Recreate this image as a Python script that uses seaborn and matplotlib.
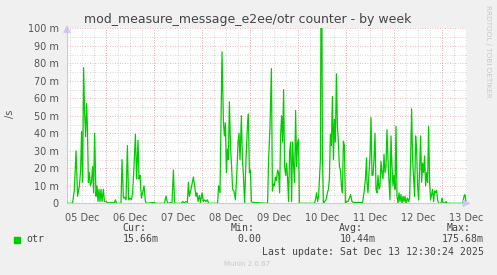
import matplotlib
matplotlib.use("Agg")
import numpy as np
import pandas as pd
import matplotlib.pyplot as plt
import seaborn as sns

# ---------------- data ----------------
START = "2025-12-05 04:30"
END = "2025-12-13 12:30"

hours = [0, 2.8, 3.7, 4.5, 5.3, 6.2, 6.8, 7.3, 7.8, 8.3, 8.8, 9.3, 9.8, 10.2, 10.7, 11.2, 11.7,
         12.2, 12.8, 13.3, 13.8, 14.5, 15, 15.5, 16, 16.5, 17, 17.5, 18.2, 18.7, 19.5, 20.3,
         23.7, 24.2, 24.8, 27, 27.5, 28.2, 28.8, 29.5, 30.2, 30.8, 31.5, 32.2, 32.8, 33.5,
         34.2, 34.8, 35.5, 36, 36.5, 37.2, 37.8, 38.5, 39.2, 39.8, 43.7, 44.5, 48.7,
         49.5, 50.3, 52.5, 53.2, 53.8, 57, 57.8, 58.7, 59.5, 60.2, 60.7, 61.2, 62, 63.2,
         63.8, 64.5, 65, 65.5, 66.2, 66.8, 67.5, 68.2, 68.8, 69.5, 70.2, 70.8, 75.3, 75.8,
         76.5, 77.5, 78.2, 78.7, 79.2, 79.7, 80.2, 80.7, 81.2, 81.8, 82.3, 82.8, 83.5, 84.2,
         84.8, 85.5, 86, 86.5, 87.2, 87.7, 88.2, 88.8, 89.5, 90.2, 90.7, 91.2, 91.7, 92.2,
         92.8, 99.5,
         100.3, 100.8, 101.5, 102.2, 102.7, 103.2, 103.7, 104.2, 104.7, 105.3, 105.8, 106.3,
         106.8, 107.3, 107.8, 108.3, 108.8, 109.3, 109.8, 110.3, 110.8, 111.3, 111.8, 112.3,
         112.8, 113.3, 113.8, 114.3, 114.8, 115.3, 115.8, 116.2, 123.7, 124.2, 124.8, 125.3,
         125.8, 126.7, 127.2, 127.7, 128.2, 128.8, 129.5, 130.2, 130.7, 131.2, 131.7, 132.2,
         132.7, 133.2, 133.7, 134.2, 134.7, 135.2, 135.7, 136.2, 136.7, 137.2, 137.7, 138.2,
         138.7, 139.2, 139.8, 140.5, 141.2, 141.8, 142.5, 143.2, 147.8, 148.7, 149.2, 149.8,
         150, 150.5, 151, 151.5, 152, 152.5, 153, 153.5, 154, 154.5, 155, 155.5, 156, 156.5,
         157, 157.5, 158, 158.5, 159, 159.5, 160, 160.5, 161, 161.5, 162, 162.5, 163, 163.5,
         164, 164.5, 165, 165.5, 166, 166.5, 167, 167.5, 168, 168.5, 169, 169.5, 170.2, 170.8,
         171.3, 171.8, 172.3, 172.8, 173.3, 173.8, 174.3, 174.8, 175.3, 175.8, 176.3, 176.8,
         177.3, 177.8, 178.3, 178.8, 179.3, 179.8, 180.3, 180.8, 181.3, 181.8, 182.3, 182.8,
         183.3, 183.8, 184.3, 184.8, 185.3, 185.8, 187, 187.5, 188, 188.8, 189.5, 190, 197.8,
         198.5, 199, 199.5]

otr_m = [0, 0, 8, 30, 4, 10, 19, 41, 12, 77.5, 52, 38, 57, 44, 12, 17.5, 10,
         12, 21, 6, 40, 4, 10, 1, 8, 1, 8, 1, 8, 1, 1, 0.3,
         0.3, 2, 0, 0, 25, 3, 3.5, 2, 33, 2, 3, 2, 6, 21,
         39.5, 14, 36, 14, 16, 3, 6, 10, 1, 0, 0.5, 0, 0,
         4, 0, 0.5, 19, 0, 0, 1, 0.3, 1, 0.5, 12, 4, 8, 15,
         10, 4, 6, 1, 4.5, 0.5, 6, 1, 2, 1, 2, 0, 0, 10,
         6, 86.5, 47, 38.5, 46, 17.5, 31, 25, 58, 31, 21, 8, 7, 2,
         14, 35, 40, 25, 50, 25, 16.5, 0, 25, 44, 51, 17.5, 19, 1,
         0.5, 0,
         0, 25, 44, 77, 7, 11, 10, 15, 13, 19, 17.5, 6,
         38.5, 50, 35, 65, 21, 16, 23, 14, 1, 29, 35, 1,
         35, 21, 12, 53, 21, 35, 36.5, 0, 0, 2, 6, 1,
         4, 25, 175.68, 29, 0, 1, 2, 6, 8, 14, 39.5, 33,
         61, 25, 48, 35, 74, 44, 35, 21, 19, 10, 6, 35.5,
         33, 0, 1, 1, 3, 5, 1, 0.5, 0.5, 8, 14, 26,
         12, 6, 17.5, 27, 49, 16, 16, 25, 40, 8, 6, 16, 8, 10,
         24, 17.5, 14, 28, 17.5, 21, 42, 25, 12, 2, 38.5, 21, 10, 16,
         8, 44, 4, 0, 6, 1, 5, 0, 4, 1, 4, 0, 3, 1,
         3, 25, 54, 25, 14, 4, 38.5, 31, 10, 2, 19, 38.5,
         12, 23, 17.5, 27, 10, 17.5, 12, 44, 12, 2, 5, 8,
         1, 7, 6, 7.5, 2, 0, 0, 3, 0.5, 0, 1, 0, 0,
         4, 5, 0]

y_ticks = [0, 10, 20, 30, 40, 50, 60, 70, 80, 90, 100]
y_tick_labels = ["0"] + [f"{v} m" for v in y_ticks[1:]]
legend_name = "otr"
stat_names = ["Cur:", "Min:", "Avg:", "Max:"]
stat_values = ["15.66m", "0.00", "10.44m", "175.68m"]
last_update = "Last update: Sat Dec 13 12:30:24 2025"
title = "mod_measure_message_e2ee/otr counter - by week"

# ---------------- derived time grid ----------------
start = pd.Timestamp(START)
end = pd.Timestamp(END)
span_h = (end - start) / pd.Timedelta(hours=1)
midnights = pd.date_range("2025-12-06", "2025-12-13", freq="D")
midnight_h = [(d - start) / pd.Timedelta(hours=1) for d in midnights]
six_h = [(d - start) / pd.Timedelta(hours=1)
         for d in pd.date_range("2025-12-05 06:00", "2025-12-13 12:00", freq="6h")]
noons = pd.date_range("2025-12-05 12:00", "2025-12-13 12:00", freq="D")
noon_h = [(d - start) / pd.Timedelta(hours=1) for d in noons]
noon_labels = [d.strftime("%d %b") for d in noons]

df = pd.DataFrame({"hours": hours, "value": otr_m})

# ---------------- figure ----------------
W, H = 497, 275
sns.set_style("white")
plt.rcParams["font.family"] = ["DejaVu Sans"]
fig = plt.figure(figsize=(W / 100, H / 100), dpi=100, facecolor="#F0F0F0")

L, R, T, B = 67, 467, 28.3, 203.3
ax = fig.add_axes([L / W, 1 - B / H, (R - L) / W, (B - T) / H])
ax.set_facecolor("white")

# grid
for h in six_h:
    ax.axvline(h, color="#C8C8C8", lw=0.6, ls=(0, (1, 2)), zorder=1)
for h in midnight_h:
    ax.axvline(h, color="#E8A0A0", lw=0.6, ls=(0, (1, 2)), zorder=1.1)
for v in np.arange(5, 100, 10):
    ax.axhline(v, color="#C8C8C8", lw=0.6, ls=(0, (1, 2)), zorder=1)
for v in y_ticks[1:]:
    ax.axhline(v, color="#E8A0A0", lw=0.6, ls=(0, (1, 2)), zorder=1.1)

sns.lineplot(data=df, x="hours", y="value", ax=ax, color="#00CC00",
             linewidth=0.9, zorder=3, estimator=None)

ax.set_xlim(0, span_h)
ax.set_ylim(0, 100)
ax.set_xlabel("")
ax.set_ylabel("")

ax.set_yticks(y_ticks)
ax.set_yticklabels(y_tick_labels)
ax.tick_params(axis="y", length=2, width=0.6, color="#A0A0A0", pad=4,
               labelsize=7, labelcolor="#555555")
ax.set_xticks(midnight_h)
ax.set_xticklabels([])
ax.tick_params(axis="x", length=2, width=0.8, color="#E07070", pad=2)
for h, lab in zip(noon_h, noon_labels):
    ax.text(h, -0.055, lab, transform=ax.get_xaxis_transform(), ha="center",
            va="top", fontsize=7, color="#555555", clip_on=False)

for s in ["top", "right"]:
    ax.spines[s].set_visible(False)
for s in ["left", "bottom"]:
    ax.spines[s].set_color("#C8C8F0")
    ax.spines[s].set_linewidth(0.8)

# axis arrows
ax.annotate("", xy=(0, 1.035), xytext=(0, 0.98), xycoords="axes fraction",
            arrowprops=dict(arrowstyle="-|>,head_length=0.45,head_width=0.22",
                            color="#C8C8F0", lw=0.8), annotation_clip=False)
ax.annotate("", xy=(1.016, 0), xytext=(0.99, 0), xycoords="axes fraction",
            arrowprops=dict(arrowstyle="-|>,head_length=0.45,head_width=0.22",
                            color="#C8C8F0", lw=0.8), annotation_clip=False)

def ft(x, y, s, **kw):
    fig.text(x / W, 1 - y / H, s, **kw)

ft(247.5, 19, title, ha="center", va="center", fontsize=9, color="#444444")
ft(10.5, 114, "/s", ha="center", va="center", rotation=90, fontsize=7, color="#555555")
ft(488, 5, "RRDTOOL / TOBI OETIKER", ha="center", va="top", rotation=270,
   fontsize=5.2, color="#C8C8C8")

mono = dict(family="DejaVu Sans Mono", fontsize=7.1, color="#444444", va="center")
# legend square
fig.patches.append(plt.Rectangle((14 / W, 1 - 242.7 / H), 6 / W, 5.7 / H,
                                 transform=fig.transFigure, color="#00CC00"))
ft(26.7, 239.5, legend_name, ha="left", **mono)
ft(122.7, 227.7, stat_names[0], ha="left", **mono)
ft(122.7, 239.5, stat_values[0], ha="left", **mono)
ft(231, 227.7, stat_names[1], ha="left", **mono)
ft(261, 239.5, stat_values[1], ha="right", **mono)
ft(339.3, 227.7, stat_names[2], ha="left", **mono)
ft(339.3, 239.5, stat_values[2], ha="left", **mono)
ft(447, 227.7, stat_names[3], ha="left", **mono)
ft(483.5, 239.5, stat_values[3], ha="right", **mono)
ft(483.5, 251.7, last_update, ha="right", **mono)
ft(247.5, 264, "Munin 2.0.67", ha="center", va="center", fontsize=5, color="#C8C8C8")

fig.savefig("out.png", dpi=100, facecolor=fig.get_facecolor())
